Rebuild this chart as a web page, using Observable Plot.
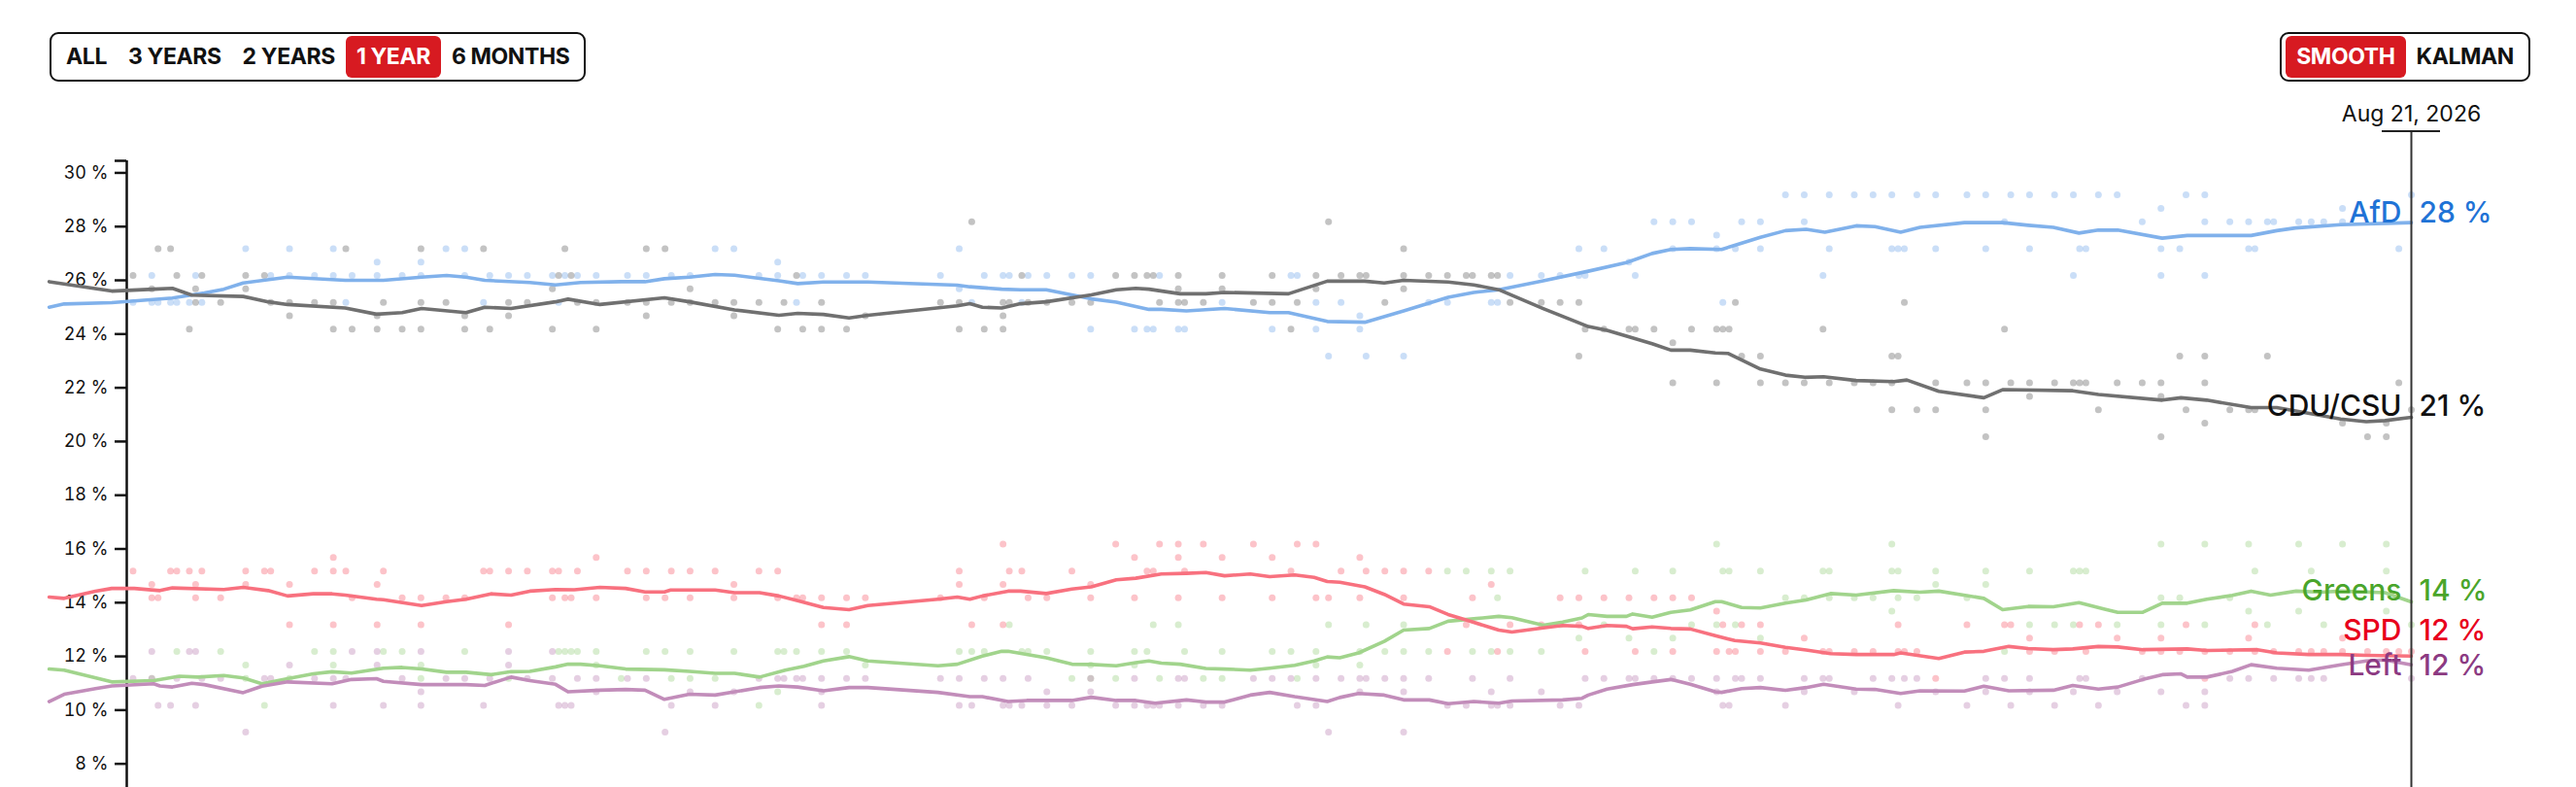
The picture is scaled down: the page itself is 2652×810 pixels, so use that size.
<!DOCTYPE html>
<html><head><meta charset="utf-8">
<script src="https://cdn.jsdelivr.net/npm/d3@7"></script>
<script src="https://cdn.jsdelivr.net/npm/@observablehq/plot@0.6"></script>
<style>
html,body{margin:0;padding:0;background:#fff;}
body{width:2652px;height:810px;overflow:hidden;position:relative;font-family:Inter,"Noto Sans",sans-serif;color:#111;}
#chart{position:absolute;left:0;top:0;}
#chart svg{max-width:none;}
.seg{position:absolute;top:33px;height:51px;box-sizing:border-box;border:2px solid #111;border-radius:9px;padding:2px 4px;display:flex;align-items:stretch;background:#fff;}
.seg span{display:block;padding:0 11px;line-height:43px;font-size:23px;font-weight:700;letter-spacing:-0.4px;border-radius:6px;white-space:nowrap;}
.seg span.on{background:#d71a21;color:#fff;}
</style></head>
<body>
<div id="chart"></div>
<div class="seg" id="ranges" style="left:51px"></div>
<div class="seg" id="modes" style="right:47px"></div>
<script>
// ---------- data (x = days after 21 Aug 2025) ----------
const rangeLabels = ["ALL","3 YEARS","2 YEARS","1 YEAR","6 MONTHS"];
const activeRange = "1 YEAR";
const modeLabels = ["SMOOTH","KALMAN"];
const activeMode = "SMOOTH";
const partyNames = ["AfD","CDU/CSU","Greens","SPD","Left"];
const yTickValues = [8,10,12,14,16,18,20,22,24,26,28,30];

const afdPolls = [[1,25],[4,26],[4,25],[5,25],[7,25],[8,25],[10,25],[11,26],[12,25],[19,27],[23,26],[26,27],[26,26],[30,26],[33,27],[33,26],[35,25],[36,26],[40,26.5],[40,26],[44,26],[47,26.5],[47,26],[51,27],[54,27],[54,26],[57,25],[58,26],[61,26],[64,26],[68,26],[69,25],[70,26],[72,26],[75,26],
[80,26],[83,26],[87,26],[90,26],[94,27],[97,27],[101,26],[104,26.5],[104,26],[107,25],[108,26],[111,26],[115,26],[118,26],[130,26],[133,27],[133,25.5],[135,25],[137,26],[140,26],[141,26],[143,25],[144,26],[147,26],[151,26],[154,26],[154,24],[161,24],[163,24],[164,24],[165,26],[168,24],[169,24],[175,25],
[183,24],[186,26],[187,26],[190,25],[190,24],[192,23],[194,25],[197,24.5],[197,24],[198,23],[204,23],[208,25],[211,25],[218,25],[219,25],[221,26],[226,26],[229,26],[232,27],[232,26],[233,26],[236,27],[240,26.5],[241,26],[244,28],[247,28],[247,27],[250,28],[254,27.5],[254,27],[255,25],[257,27],[258,28],[261,28],[261,27],[265,29],[268,29],[268,28],[271,26],
[272,29],[272,27],[276,29],[279,29],[282,29],[282,27],[283,27],[284,27],[286,29],[289,29],[289,27],[294,29],[297,29],[297,27],[300,28],[301,29],[304,29],[304,27],[308,29],[311,29],[311,26],[312,27],[313,27],[315,29],[318,29],[322,28],[325,28.5],[325,27],[325,26],[328,27],[329,29],[332,29],[332,28],[332,26],[336,28],[339,28],[339,27],[340,27],[342,28],[343,28],[347,28],[349,28],[351,28],[354,28.5],[354,28],[363,27],[365,29]];

const cduPolls = [[1,26],[4,25.5],[5,27],[7,27],[8,26],[10,24],[11,25.5],[11,25],[12,26],[15,25],[19,26],[19,25.5],[22,26],[23,25],[26,25],[26,24.5],[30,25],[33,25],[33,24],[35,27],[36,24],[40,24],[40,24.5],[41,25],[44,24],[47,27],[47,25],[47,24],[51,25],[54,24.5],[54,24],[57,27],[58,24],[61,25],[61,24.5],[64,25],[68,25.5],[68,24],[69,26],[70,27],[71,26],[72,25],[75,25],[75,24],
[80,25],[83,27],[83,25],[83,24.5],[86,27],[87,25],[90,25.5],[90,25],[94,25],[97,25],[97,24.5],[101,25],[104,24],[105,25],[107,26],[108,24],[111,25],[111,24],[115,24],[118,24.5],[130,25],[133,24],[133,25],[135,28],[137,24],[140,25],[140,24.5],[140,24],[141,25],[143,26],[144,25],[147,25],[151,25],[154,25],[158,26],[161,26],[163,26],[164,26],[165,25],[168,26],[168,25.5],[168,25],[169,25],[172,25],
[175,26],[175,25.5],[180,25],[183,26],[183,25],[186,24],[187,25],[190,26],[190,25.5],[192,28],[194,26],[197,26],[198,26],[201,25],[204,27],[204,26],[204,25.5],[208,26],[211,26],[214,26],[215,26],[218,26],[219,26],[221,25],[226,25],[229,25],[232,25],[232,23],[233,24],[236,24],[240,24],[241,24],[244,24],[247,23.5],[247,22],[250,24],[254,24],[254,22],[255,24],[256,24],[257,25],[258,23],[261,23],[261,22],[265,22],[268,22],
[271,24],[272,22],[276,22],[279,22],[282,23],[282,22],[282,21],[283,23],[284,25],[286,21],[289,22],[289,21],[294,22],[297,22],[297,21],[297,20],[300,24],[301,22],[304,22],[304,21.5],[308,22],[311,22],[312,22],[313,22],[315,21],[318,22],[322,22],[325,22],[325,21.5],[325,20],[328,23],[329,21],[332,23],[332,22],[332,20.5],[336,21],[339,21],[340,21],[342,23],[354,20.5],[358,20],[361,20],[361,20.5],[363,22],[365,21]];

const greensPolls = [[4,11],[8,12],[15,12],[19,11.5],[19,11],[22,10],[26,11],[30,12],[33,12],[33,11.5],[41,12],[44,12],[47,11.5],[47,11],[54,12],[61,11],[69,12],[70,12],[71,12],[72,12],[75,12],[75,11.5],[79,11],
[83,12],[86,12],[87,11],[90,12],[90,11],[94,11],[97,12],[101,10],[104,12],[104,10.5],[105,12],[107,12],[111,12],[115,12],[118,11.5],[133,12],[135,12],[137,12],[141,13],[143,12],[144,12],[147,12],[151,11],[154,12],[154,11.5],[154,11],[158,11],[161,12],[161,11.5],[163,12],[164,13],[165,11],[168,13],[169,12],[172,11],
[175,12],[175,11],[183,12],[186,12],[187,11],[190,12],[190,11.5],[192,13],[197,12],[197,11.5],[198,13],[201,12],[204,13],[204,12],[208,12],[211,15],[214,15],[215,12],[218,15],[218,12],[219,14],[221,15],[221,12],[226,12],[229,13],[232,12.5],[233,15],[236,13],[240,12.5],[241,15],[244,12],[247,15],[247,12.5],[250,13],[254,16],[254,13],[255,15],[256,15],[257,13],[261,15],[261,12.5],[265,14],[268,14],[271,15],
[272,15],[272,14],[276,14],[279,14],[282,16],[282,15],[282,13.5],[283,15],[283,14],[286,14],[289,15],[289,14.5],[294,14],[297,15],[297,14.5],[300,12],[304,15],[304,13],[308,13],[311,15],[311,13],[312,15],[313,15],[318,13],[325,16],[325,14],[325,13],[328,14],[332,16],[332,13],[336,14],[339,16],[339,13.5],[340,15],[342,13],[347,16],[347,13.5],[349,15],[351,13],[354,16],[361,16],[361,15],[361,13.5],[365,13]];

const spdPolls = [[1,15],[4,14.5],[4,14],[5,14],[7,15],[8,15],[10,15],[11,14.5],[11,14],[12,15],[15,14],[19,15],[19,14.5],[22,15],[23,15],[26,14.5],[26,13],[30,15],[33,15.5],[33,15],[33,13],[35,15],[36,14],[40,14.5],[40,13],[41,15],[44,14],[47,14],[47,13],[51,14],[54,14],[57,15],[58,15],[61,15],[61,13],[64,15],[68,15],[68,14],[69,15],[70,14],[71,14],[72,15],[75,15.5],[75,14],
[80,15],[83,15],[83,14],[86,14],[87,15],[90,15],[90,14],[94,15],[97,14.5],[97,14],[101,15],[104,15],[104,14],[107,14],[108,14],[111,14],[111,13],[115,14],[115,13],[118,14],[130,14],[133,15],[133,14.5],[135,13],[137,14],[140,16],[140,14.5],[140,13],[141,15],[143,15],[144,14],[147,14],[151,15],[154,14.5],[154,14],[158,16],[161,15.5],[161,14],[163,15],[164,15],[165,16],[168,16],[168,15.5],[168,14],[169,15],[172,16],
[175,15.5],[175,14],[180,16],[183,15.5],[183,14],[186,15],[187,16],[190,16],[190,14],[192,14],[194,15],[197,15.5],[197,14],[198,15],[201,15],[204,15],[204,14],[208,15],[211,12],[214,13],[215,14],[218,14.5],[219,12],[221,13],[226,13],[229,14],[232,14],[232,13],[233,12],[236,14],[240,14],[241,12],[244,14],[247,14],[247,12],[250,14],[254,13.5],[254,12],[255,13],[256,12],[257,12],[258,13],[261,13],[261,12],[265,12],[268,12.5],[271,12],
[272,12],[276,12],[279,12],[283,13],[283,12],[284,12],[286,12],[289,11],[294,13],[300,13],[301,13],[304,12.5],[304,12],[308,12],[312,13],[313,12],[315,13],[318,12.5],[322,12],[325,12.5],[325,12],[328,12],[329,13],[332,12],[332,11],[336,12],[339,12.5],[340,12],[340,13],[343,12],[347,12],[349,12],[351,12],[354,12],[354,12.5],[358,12],[361,12],[363,12],[365,12]];

const leftPolls = [[1,11],[4,12],[4,11],[5,10],[7,10],[8,11],[10,12],[11,12],[11,10],[12,11],[15,11],[19,9],[22,11],[23,11],[26,11.5],[30,11],[33,11],[33,10],[35,11],[36,12],[40,12],[40,11.5],[41,10],[44,11],[47,12],[47,10.5],[47,10],[51,11],[54,11],[57,10],[58,11],[61,12],[61,11.5],[64,11],[68,12],[68,11],[69,10],[70,10],[71,10],[72,11],[75,11],[75,10.5],
[80,11],[83,11],[86,9],[87,10],[90,10.5],[94,10],[97,10.5],[101,11],[104,11],[105,11],[107,11],[108,11],[111,11],[111,10.5],[111,10],[115,11],[118,11],[130,11],[133,11],[133,10],[135,10],[137,11],[140,11],[140,10],[141,10],[143,10],[144,11],[147,10.5],[147,10],[151,10],[154,11],[154,10.5],[158,10],[161,11],[161,10],[163,10],[164,10],[165,10],[168,11],[168,10],[169,11],[172,10],
[175,10],[180,11],[183,11],[186,11],[187,10],[190,11],[190,10],[192,9],[194,11],[197,11],[197,10.5],[198,11],[201,11],[204,11],[204,10.5],[204,9],[208,11],[211,10],[214,10],[215,11],[218,10.5],[218,10],[219,10],[221,11],[221,10],[226,10.5],[229,10],[232,10],[233,11],[236,11],[240,11],[241,11],[244,11],[247,11],[250,11],[254,11],[254,10.5],[255,10],[256,10],[257,11],[258,11],[261,11],[265,10],[268,11],[268,10.5],[271,11],
[272,11],[276,10.5],[279,11],[282,11],[283,10],[284,11],[286,11],[289,10.5],[294,10],[297,11],[297,10.5],[300,11],[301,10],[304,11],[304,10.5],[308,10],[311,10.5],[312,11],[313,11],[315,10],[318,10.5],[322,11],[325,10.5],[329,10],[332,10.5],[332,10],[336,11],[339,11],[343,11],[347,11],[349,11],[351,11],[365,11]];

const afdTrend = [[-12.4,25.0],[-10,25.12],[-2.4,25.17],[7.3,25.34],[12.4,25.53],[15.5,25.67],[18.6,25.9],[25.7,26.12],[34.9,26.0],[41,26.0],[47.1,26.12],[51.1,26.18],[54.2,26.12],[57.2,26.0],[64.4,25.92],[68.5,25.83],[72.5,25.92],[79,25.95],[82.8,25.95],[85.9,26.06],[89.9,26.12],[94,26.22],[97.1,26.19],[104.2,25.98],[107.2,25.88],[111.3,25.94],[118.4,25.94],[132.7,25.82],[134.7,25.76],[139.8,25.67],[142.8,25.65],[146.9,25.65],[154.1,25.31],[158.1,25.19],[163.3,24.92],[165.3,24.92],[169.3,24.86],[175.4,24.95],[182.6,24.8],[185.6,24.8],[191.8,24.47],[197.8,24.44],[204,24.86],[211.1,25.37],[215.2,25.55],[219.2,25.65],[226.3,25.98],[233.5,26.34],[239.6,26.66],[243.7,27.0],[246.7,27.15],[249.8,27.18],[254.8,27.15],[261,27.6],[265,27.85],[268.3,27.9],[271.3,27.79],[276.3,28.03],[279.3,28.0],[283.4,27.79],[286.5,27.97],[293.6,28.15],[299.7,28.15],[303.8,28.05],[307.8,27.97],[311.9,27.76],[315,27.87],[318.1,27.87],[325.2,27.57],[329.2,27.67],[339.4,27.67],[343.5,27.85],[346.5,27.95],[353.7,28.07],[365,28.15]];

const cduTrend = [[-12.4,25.95],[-2.4,25.6],[4.3,25.67],[7.3,25.7],[10.4,25.45],[18.6,25.4],[22.6,25.2],[25.7,25.1],[34.9,24.97],[39.9,24.74],[44,24.8],[47.1,24.95],[54.2,24.8],[57.2,25.0],[61.4,24.95],[68.5,25.2],[70.5,25.3],[75.6,25.1],[85.9,25.35],[89.9,25.2],[97.1,24.9],[104.2,24.7],[107.2,24.77],[111.3,24.73],[115.4,24.6],[118.4,24.7],[132.7,25.05],[134.7,25.13],[136.7,25.0],[139.8,24.97],[142.8,25.13],[146.9,25.2],[154.1,25.46],[158.1,25.65],[161.2,25.7],[163.3,25.67],[168.3,25.5],[172.4,25.5],[175.4,25.55],[185.6,25.5],[191.8,25.97],[197.8,25.97],[200.9,25.9],[204,26.0],[211.1,25.94],[215.2,25.83],[219.2,25.65],[226.3,24.95],[233.5,24.28],[236.5,24.14],[243.7,23.64],[246.7,23.4],[249.8,23.4],[253.8,23.3],[255.8,23.28],[261,22.7],[265,22.47],[268.1,22.39],[271.1,22.41],[276.3,22.27],[282.3,22.23],[284.4,22.29],[289.5,21.87],[296.7,21.63],[299.7,21.93],[310.9,21.89],[315,21.75],[325.2,21.54],[328.2,21.63],[332.3,21.54],[339.4,21.26],[343.5,21.26],[353.7,20.84],[357.8,20.74],[360.8,20.78],[365,20.9]];

const greensTrend = [[-12.4,11.53],[-10,11.49],[-2.4,11.05],[4.3,11.1],[8.4,11.26],[11.4,11.23],[15.5,11.29],[18.6,11.2],[21.6,10.98],[25.7,11.17],[29.8,11.35],[32.8,11.43],[35.9,11.38],[41,11.56],[44,11.59],[47.1,11.53],[51.1,11.41],[54.2,11.41],[58.2,11.32],[61.4,11.43],[64.4,11.44],[68.5,11.61],[70.5,11.71],[72.5,11.71],[75.6,11.65],[79.7,11.53],[85.9,11.5],[89.9,11.44],[94,11.37],[97.1,11.37],[101.1,11.23],[105.2,11.49],[108.2,11.63],[111.3,11.83],[115.4,11.99],[118.4,11.83],[129.6,11.65],[132.7,11.71],[136.7,12.01],[139.8,12.19],[140.8,12.19],[146.9,11.95],[151,11.71],[154.1,11.7],[158.1,11.65],[161.2,11.77],[163.3,11.83],[165.3,11.75],[168.3,11.71],[172.4,11.55],[175.4,11.53],[179.5,11.49],[182.6,11.56],[186.6,11.67],[189.7,11.83],[191.8,11.98],[193.8,11.95],[196.8,12.13],[200.9,12.56],[204,12.98],[208.1,13.04],[211.1,13.31],[215.2,13.4],[219.2,13.49],[221.3,13.44],[226.3,13.16],[229.4,13.28],[232.5,13.43],[233.5,13.56],[236.5,13.49],[239.6,13.49],[240.6,13.58],[243.7,13.46],[246.7,13.64],[249.8,13.73],[253.8,14.04],[254.8,14.04],[258,13.82],[261,13.8],[265,13.98],[268.3,14.1],[272.2,14.34],[276.3,14.28],[282.3,14.45],[286.5,14.39],[289.5,14.43],[296.7,14.16],[299.7,13.74],[303.8,13.86],[307.8,13.85],[311.9,14.0],[316,13.76],[318.1,13.64],[322.1,13.64],[325.2,13.98],[329.2,13.98],[332.3,14.13],[336.4,14.27],[339.4,14.43],[342.5,14.28],[346.6,14.43],[350.6,14.39],[353.7,14.43],[360.8,14.37],[365,14.03]];

const spdTrend = [[-12.4,14.21],[-10,14.16],[-5,14.43],[-2.4,14.53],[1.2,14.53],[5.3,14.45],[7.3,14.55],[15.5,14.49],[18.6,14.57],[22.6,14.45],[25.7,14.25],[29.8,14.33],[32.8,14.33],[34.9,14.28],[39.9,14.13],[41,14.11],[47.1,13.89],[51.1,14.04],[54.2,14.13],[58.2,14.33],[61.4,14.28],[64.4,14.43],[68.5,14.49],[71.5,14.48],[75.6,14.57],[79.7,14.53],[82.8,14.4],[85.9,14.4],[86.9,14.47],[94,14.47],[97.1,14.37],[101.1,14.37],[104.2,14.25],[107.2,14.07],[111.3,13.82],[115.4,13.74],[118.4,13.89],[129.6,14.13],[132.7,14.21],[134.7,14.13],[136.7,14.25],[140.8,14.43],[142.8,14.43],[146.9,14.34],[151,14.51],[154.1,14.59],[158.1,14.85],[161.2,14.91],[165.3,15.07],[169.3,15.09],[172.4,15.12],[175.4,15.0],[179.5,15.07],[182.6,14.97],[186.6,15.03],[189.7,14.94],[191.8,14.79],[193.8,14.76],[197.8,14.59],[200.9,14.31],[204,13.95],[208.1,13.85],[211.1,13.56],[214.2,13.34],[219.2,12.98],[221.3,12.91],[226.3,13.06],[229.4,13.15],[232.5,13.12],[233.5,13.04],[236.5,13.15],[239.6,13.12],[240.6,13.03],[243.7,13.1],[246.7,13.04],[249.8,13.02],[253.8,12.77],[256.9,12.59],[261,12.5],[265,12.34],[268.3,12.24],[272.2,12.1],[276.3,12.07],[282.3,12.07],[283.4,12.13],[289.5,11.92],[293.6,12.16],[296.7,12.19],[300.7,12.37],[303.8,12.29],[307.8,12.25],[310.9,12.28],[315,12.37],[318.1,12.35],[322.1,12.25],[329.2,12.28],[332.3,12.22],[340.4,12.25],[343.5,12.13],[348.6,12.07],[353.7,12.07],[357.8,12.04],[365,12.01]];

const leftTrend = [[-12.4,10.32],[-10,10.59],[-5,10.8],[-2.4,10.9],[4.3,10.98],[5.3,10.9],[7.3,10.86],[10.4,11.0],[12.4,10.95],[18.6,10.65],[21.6,10.89],[25.7,11.05],[32.8,10.98],[35.9,11.14],[39.9,11.17],[41,11.07],[47.1,10.95],[54.2,10.95],[57.2,10.92],[61.4,11.23],[64.4,11.1],[68.5,10.96],[70.5,10.68],[75.6,10.74],[79.7,10.77],[82.8,10.74],[85.9,10.4],[89.9,10.59],[94,10.56],[97.1,10.68],[101.1,10.84],[104.2,10.9],[107.2,10.86],[111.3,10.72],[115.4,10.84],[118.4,10.84],[129.6,10.66],[134.7,10.5],[136.7,10.5],[140.8,10.32],[143.8,10.36],[151,10.36],[154.1,10.48],[158.1,10.36],[161.2,10.36],[164.3,10.26],[169.3,10.38],[172.4,10.3],[175.4,10.3],[179.5,10.56],[182.6,10.66],[186.6,10.5],[191.8,10.32],[193.8,10.47],[196.8,10.62],[200.9,10.56],[204,10.38],[208.1,10.38],[211.1,10.24],[215.2,10.32],[219.2,10.26],[221.3,10.34],[229.4,10.38],[232.5,10.44],[233.5,10.56],[236.5,10.78],[240.6,10.95],[243.7,11.05],[246.7,11.14],[249.8,10.96],[253.8,10.68],[254.8,10.66],[258,10.8],[261,10.84],[265,10.74],[268.3,10.84],[271.1,10.96],[276.3,10.78],[279.3,10.77],[283.4,10.62],[286.5,10.72],[293.6,10.71],[296.7,10.89],[300.7,10.72],[307.8,10.74],[310.9,10.92],[315,10.78],[318.1,10.86],[322.1,11.14],[325.2,11.32],[328.2,11.35],[329.2,11.23],[332.3,11.23],[336.4,11.44],[339.4,11.69],[343.5,11.56],[348.6,11.49],[353.7,11.69],[357.8,11.83],[360.8,11.87],[365,11.69]];

// ---------- styling ----------
const lineColors  = ["#80b1eb","#707070","#a1d48c","#f8717f","#c28dba"];
const labelColors = ["#1f73d6","#111111","#4aa52b","#e8001c","#8c3a82"];
const labelDy     = [-10,-11,-11,-26,1];

const startMs = Date.UTC(2025,7,21);
const toDate = d => new Date(startMs + d*864e5);
const startDate = toDate(0), endDate = toDate(365);

const pollSets = [afdPolls,cduPolls,greensPolls,spdPolls,leftPolls];
const trendSets = [afdTrend,cduTrend,greensTrend,spdTrend,leftTrend];
const polls = pollSets.flatMap((arr,i)=>arr.map(([d,v])=>({party:partyNames[i],date:toDate(d),value:v})));
const trends = trendSets.flatMap((arr,i)=>arr.map(([d,v])=>({party:partyNames[i],date:toDate(d),value:v})));
const lasts = trendSets.map((arr,i)=>{const [d,v]=arr[arr.length-1];return {party:partyNames[i],date:toDate(d),value:v};});

const yDomain = [7.12,30.45];
const fmtDate = d3.utcFormat("%b %-d, %Y");

const labelMarks = lasts.flatMap((p,i)=>[
  Plot.text([p],{x:"date",y:"value",text:d=>d.party,textAnchor:"end",dx:-10,dy:labelDy[i],fill:labelColors[i],fontSize:30,fontWeight:500}),
  Plot.text([p],{x:"date",y:"value",text:d=>`${Math.round(d.value)} %`,textAnchor:"start",dx:8,dy:labelDy[i],fill:labelColors[i],fontSize:30,fontWeight:500})
]);

const underline = (index, scales, values, dims) => {
  const x = typeof scales.x === "function" ? scales.x(endDate) : dims.width - dims.marginRight;
  const y = dims.marginTop - 30;
  return d3.create("svg:line").attr("x1",x-30).attr("x2",x+30).attr("y1",y).attr("y2",y)
    .attr("stroke","#222").attr("stroke-width",2).node();
};

const chart = Plot.plot({
  width: 2652, height: 810,
  marginLeft: 130, marginRight: 170, marginTop: 165, marginBottom: 0,
  style: {fontFamily:"Inter, 'Noto Sans', sans-serif", fontSize:"18px", color:"#111", background:"transparent"},
  x: {type:"utc", domain:[startDate,endDate], axis:null},
  y: {domain:yDomain},
  color: {domain:partyNames, range:lineColors},
  marks: [
    Plot.axisY({ticks:yTickValues, tickFormat:d=>`${d} %`, tickSize:12, tickPadding:7, fontSize:18, strokeWidth:2.5, label:null}),
    Plot.axisY({ticks:[yDomain[1]], tickFormat:()=>"", tickSize:12, strokeWidth:2.5, label:null}),
    Plot.ruleX([startDate], {stroke:"#111", strokeWidth:2.5}),
    Plot.dot(polls, {x:"date", y:"value", fill:"party", fillOpacity:0.42, r:3.5, dy:-5}),
    Plot.line(trends, {x:"date", y:"value", z:"party", stroke:"party", strokeWidth:3.6}),
    Plot.ruleX([endDate], {stroke:"#333", strokeWidth:2, insetTop:-30}),
    Plot.text([endDate], {x:d=>d, frameAnchor:"top", lineAnchor:"middle", dy:-48, text:d=>fmtDate(d), fontSize:23, fill:"#111"}),
    underline,
    ...labelMarks
  ]
});
document.getElementById("chart").appendChild(chart);

// buttons
const mk = (el, labels, active) => labels.forEach(t => {
  const s = document.createElement("span"); s.textContent = t; if (t === active) s.className = "on"; el.appendChild(s);
});
mk(document.getElementById("ranges"), rangeLabels, activeRange);
mk(document.getElementById("modes"), modeLabels, activeMode);
</script>
</body></html>
